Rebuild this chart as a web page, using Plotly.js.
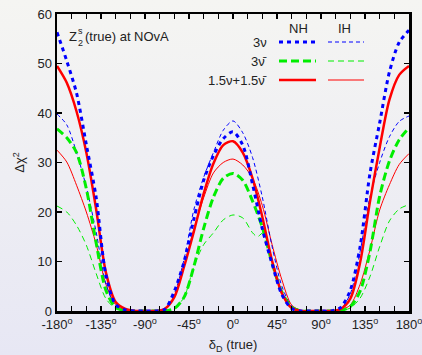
<!DOCTYPE html>
<html>
<head>
<meta charset="utf-8">
<script src="https://cdn.plot.ly/plotly-3.0.1.min.js"></script>
<style>
html,body{margin:0;padding:0;}
body{width:422px;height:355px;background:linear-gradient(#f5f5f2,#e7e7f4);}
#chart{width:422px;height:355px;}
</style>
</head>
<body>
<div id="chart"></div>
<script>
// common x grid (degrees)
const deltaX = [-180,-170,-160,-150,-140,-130,-120,-110,-100,-90,-80,-70,-60,-50,-40,-30,-20,-10,0,10,20,30,40,50,60,70,80,90,100,110,120,130,140,150,160,170,180];

const nh3nu   = [56.3,50.5,44.0,33.6,23.0,7.3,1.3,0.2,0,0,0,0.3,4.0,10.0,18.6,26.4,31.4,34.8,36.2,33.5,25.6,16.6,9.5,3.3,0.5,0,0,0,0,0.7,4.2,13.0,27.7,38.0,48.3,54.3,56.7];
const ih3nu   = [39.8,37.6,32.0,25.0,16.0,5.5,1.0,0.2,0,0,0,0.5,3.5,10.5,20.5,27.0,32.0,36.5,38.4,36.0,31.0,23.0,13.0,5.0,1.0,0.1,0,0,0,0.4,3.5,12.0,23.0,30.0,35.2,38.3,39.4];
const nh3nub  = [36.8,35.0,32.0,24.7,13.8,4.2,0.7,0.1,0,0,0,0,0.5,2.8,9.0,16.7,23.0,26.8,27.8,26.4,22.2,16.9,9.7,3.8,0.8,0,0,0,0,0.1,0.9,4.0,11.9,23.2,30.3,34.6,37.0];
const nhMix   = [49.5,46.1,40.3,32.0,20.6,7.8,1.8,0.4,0,0,0,0.4,2.8,9.0,16.1,23.7,29.8,33.5,34.3,32.0,26.8,19.0,10.1,3.6,0.6,0,0,0,0,0.4,2.5,9.8,22.0,33.0,42.7,47.7,49.5];
const ihMix   = [32.5,30.1,25.4,20.0,13.5,5.4,1.3,0.2,0,0,0,0.4,2.8,9.0,16.5,22.9,27.9,30.0,30.7,29.5,26.8,21.3,13.4,6.3,1.2,0.1,0,0,0,0.2,1.2,5.4,12.3,20.4,25.5,29.6,31.8];
// IH 3-antinu has an extra point near its dip at +25
const ih3nubX = [-180,-170,-160,-150,-140,-130,-120,-110,-100,-90,-80,-70,-60,-50,-40,-30,-20,-10,0,10,20,25,31,40,50,60,70,80,90,100,110,120,130,140,150,160,170,180];
const ih3nub  = [21.2,20.0,17.3,13.3,7.6,2.5,0.5,0.1,0,0,0,0,0.5,2.8,9.0,13.4,15.8,18.4,19.4,18.8,15.8,15.0,15.8,9.7,3.8,0.8,0,0,0,0,0.1,0.6,2.6,6.9,13.0,18.2,20.6,21.5];

const xTickVals = [-180,-135,-90,-45,0,45,90,135,180];
const xTickText = xTickVals.map(v => v + '<sup>o</sup>');
const yTickVals = [0,10,20,30,40,50,60];

const BLUE = '#0000ff', GREEN = '#00ee00', RED = '#ff0000';

const traces = [
  {x: deltaX, y: ih3nub, color: GREEN, width: 1, dash: '6px,4px'},
  {x: deltaX, y: ihMix, color: RED, width: 1, dash: 'solid'},
  {x: deltaX, y: ih3nu, color: BLUE, width: 1, dash: '4px,3px'},
  {x: deltaX, y: nh3nub, color: GREEN, width: 3, dash: '8px,4px'},
  {x: deltaX, y: nhMix, color: RED, width: 2.5, dash: 'solid'},
  {x: deltaX, y: nh3nu, color: BLUE, width: 3, dash: '4px,4px'}
].map(t => ({
  type: 'scatter', mode: 'lines', x: t.x, y: t.y, showlegend: false, hoverinfo: 'skip',
  line: {color: t.color, width: t.width, dash: t.dash, shape: 'spline', smoothing: 0.8}
}));
traces[0].x = ih3nubX;

const font = {family: 'Liberation Sans, Arial, sans-serif', size: 13, color: '#222'};

// legend built in paper coords
const L = {nhX0: 279, nhX1: 316, ihX0: 328, ihX1: 364, rows: [42, 61, 80]};
const px = v => (v - 57) / (409 - 57);
const py = v => 1 - (v - 14) / (311 - 14);
const legendStyles = [
  [{color: BLUE, width: 3, dash: '4px,4px'}, {color: BLUE, width: 1, dash: '4px,3px'}],
  [{color: GREEN, width: 3, dash: '8px,4px'}, {color: GREEN, width: 1, dash: '6px,4px'}],
  [{color: RED, width: 2.5, dash: 'solid'}, {color: RED, width: 1, dash: 'solid'}]
];
const legendLabels = ['3ν', '3ν\u0304', '1.5ν+1.5ν\u0304'];
const shapes = [];
const annotations = [];
L.rows.forEach((yy, i) => {
  shapes.push({type: 'line', xref: 'paper', yref: 'paper', x0: px(L.nhX0), x1: px(L.nhX1), y0: py(yy), y1: py(yy), line: legendStyles[i][0]});
  shapes.push({type: 'line', xref: 'paper', yref: 'paper', x0: px(L.ihX0), x1: px(L.ihX1), y0: py(yy), y1: py(yy), line: legendStyles[i][1]});
  annotations.push({xref: 'paper', yref: 'paper', x: px(269), y: py(yy), xanchor: 'right', yanchor: 'middle', text: legendLabels[i], showarrow: false, font: font});
});
annotations.push({xref: 'paper', yref: 'paper', x: px(298), y: py(28), text: 'NH', showarrow: false, font: font, xanchor: 'center', yanchor: 'middle'});
annotations.push({xref: 'paper', yref: 'paper', x: px(344), y: py(28), text: 'IH', showarrow: false, font: font, xanchor: 'center', yanchor: 'middle'});
// Z_2^s (true) at NOvA
annotations.push({xref: 'paper', yref: 'paper', x: px(67), y: py(37), text: 'Z', showarrow: false, font: font, xanchor: 'left', yanchor: 'middle'});
annotations.push({xref: 'paper', yref: 'paper', x: px(76), y: py(31), text: 's', showarrow: false, font: {family: font.family, size: 9, color: '#222'}, xanchor: 'left', yanchor: 'middle'});
annotations.push({xref: 'paper', yref: 'paper', x: px(76), y: py(43), text: '2', showarrow: false, font: {family: font.family, size: 9, color: '#222'}, xanchor: 'left', yanchor: 'middle'});
annotations.push({xref: 'paper', yref: 'paper', x: px(83), y: py(37), text: '(true) at NOvA', showarrow: false, font: font, xanchor: 'left', yanchor: 'middle'});

const layout = {
  width: 422, height: 355,
  margin: {l: 57, r: 13, t: 14, b: 44},
  paper_bgcolor: 'rgba(0,0,0,0)', plot_bgcolor: 'rgba(0,0,0,0)',
  font: font,
  showlegend: false,
  xaxis: {
    range: [-180, 180], tickmode: 'array', tickvals: xTickVals, ticktext: xTickText,
    ticks: 'inside', ticklen: 5, tickwidth: 1.5, tickcolor: '#000',
    minor: {dtick: 15, tick0: -180, ticks: 'inside', ticklen: 5, tickwidth: 1.5, tickcolor: '#000'},
    ticklabeloverflow: 'allow',
    showline: true, linecolor: '#000', linewidth: 2.5, mirror: 'ticks',
    showgrid: false, zeroline: false, tickfont: font,
    title: {text: 'δ<sub>D</sub> (true)', font: font, standoff: 9}
  },
  yaxis: {
    range: [0, 60], tickmode: 'array', tickvals: yTickVals,
    ticks: 'inside', ticklen: 5, tickwidth: 1.5, tickcolor: '#000',
    showline: true, linecolor: '#000', linewidth: 2.5, mirror: 'ticks',
    showgrid: false, zeroline: false, tickfont: font,
    title: {text: 'Δχ<sup>2</sup>', font: font, standoff: 10}
  },
  shapes: shapes,
  annotations: annotations
};

Plotly.newPlot('chart', traces, layout, {displayModeBar: false, staticPlot: true});
</script>
</body>
</html>
